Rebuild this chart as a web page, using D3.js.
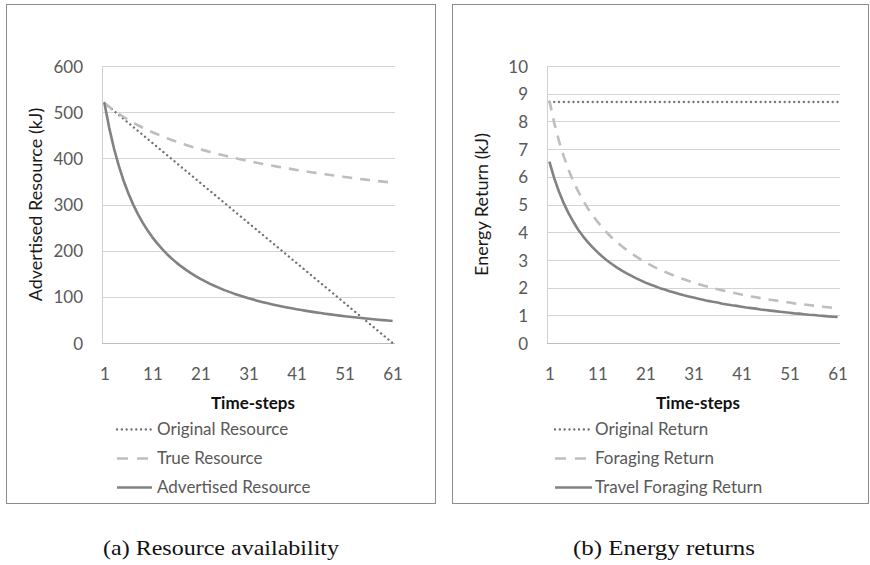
<!DOCTYPE html>
<html>
<head>
<meta charset="utf-8">
<script src="https://cdn.jsdelivr.net/npm/d3@7"></script>
<style>
  html, body { margin: 0; padding: 0; background: #fff; }
  svg { display: block; }
</style>
</head>
<body>
<svg id="fig" width="870" height="565"></svg>
<script>
// Time-step categories and the labels shown on the category axis
const timeSteps = [1,2,3,4,5,6,7,8,9,10,11,12,13,14,15,16,17,18,19,20,21,22,23,24,25,26,27,28,29,30,
  31,32,33,34,35,36,37,38,39,40,41,42,43,44,45,46,47,48,49,50,51,52,53,54,55,56,57,58,59,60,61];
const stepLabels = [1, 11, 21, 31, 41, 51, 61];

// (a) Resource availability, kJ
const resourceTicks = [0, 100, 200, 300, 400, 500, 600];
const originalResource = [520, 511.3, 502.7, 494, 485.3, 476.7, 468, 459.3, 450.7, 442,
  433.3, 424.7, 416, 407.3, 398.7, 390, 381.3, 372.7, 364, 355.3,
  346.7, 338, 329.3, 320.7, 312, 303.3, 294.7, 286, 277.3, 268.7,
  260, 251.3, 242.7, 234, 225.3, 216.7, 208, 199.3, 190.7, 182,
  173.3, 164.7, 156, 147.3, 138.7, 130, 121.3, 112.7, 104, 95.3,
  86.7, 78, 69.3, 60.7, 52, 43.3, 34.7, 26, 17.3, 8.7, 0];
const trueResource = [520, 511.5, 503.6, 496.3, 489.5, 483.1, 477.2, 471.6, 466.3, 461.3,
  456.6, 452.1, 447.8, 443.8, 439.9, 436.1, 432.6, 429.1, 425.8, 422.7,
  419.6, 416.7, 413.8, 411.1, 408.4, 405.9, 403.4, 400.9, 398.6, 396.3,
  394.1, 392.0, 389.9, 387.8, 385.9, 383.9, 382.0, 380.2, 378.4, 376.6,
  374.9, 373.3, 371.6, 370.0, 368.5, 366.9, 365.4, 364.0, 362.5, 361.1,
  359.7, 358.4, 357.0, 355.7, 354.4, 353.2, 351.9, 350.7, 349.5, 348.4, 347.2];
const advertisedResource = [520, 466.0, 421.2, 383.5, 351.4, 323.7, 299.7, 278.6, 260.1, 243.6,
  228.9, 215.7, 203.7, 192.9, 183.1, 174.1, 165.9, 158.3, 151.4, 144.9,
  138.9, 133.4, 128.2, 123.4, 118.9, 114.6, 110.7, 106.9, 103.4, 100.1,
  97.0, 94.0, 91.2, 88.5, 86.0, 83.6, 81.3, 79.1, 77.0, 75.1,
  73.2, 71.4, 69.6, 68.0, 66.4, 64.8, 63.4, 62.0, 60.6, 59.3,
  58.1, 56.9, 55.7, 54.6, 53.5, 52.4, 51.4, 50.5, 49.5, 48.6, 47.7];

// (b) Energy returns, kJ
const returnTicks = [0, 1, 2, 3, 4, 5, 6, 7, 8, 9, 10];
const originalReturn = [8.7, 8.7, 8.7, 8.7, 8.7, 8.7, 8.7, 8.7, 8.7, 8.7,
  8.7, 8.7, 8.7, 8.7, 8.7, 8.7, 8.7, 8.7, 8.7, 8.7,
  8.7, 8.7, 8.7, 8.7, 8.7, 8.7, 8.7, 8.7, 8.7, 8.7,
  8.7, 8.7, 8.7, 8.7, 8.7, 8.7, 8.7, 8.7, 8.7, 8.7,
  8.7, 8.7, 8.7, 8.7, 8.7, 8.7, 8.7, 8.7, 8.7, 8.7,
  8.7, 8.7, 8.7, 8.7, 8.7, 8.7, 8.7, 8.7, 8.7, 8.7, 8.7];
const foragingReturn = [8.75, 7.95, 7.29, 6.73, 6.25, 5.83, 5.47, 5.15, 4.86, 4.61,
  4.38, 4.17, 3.98, 3.80, 3.65, 3.50, 3.37, 3.24, 3.13, 3.02,
  2.92, 2.82, 2.73, 2.65, 2.57, 2.50, 2.43, 2.36, 2.30, 2.24,
  2.19, 2.13, 2.08, 2.03, 1.99, 1.94, 1.90, 1.86, 1.82, 1.79,
  1.75, 1.72, 1.68, 1.65, 1.62, 1.59, 1.56, 1.54, 1.51, 1.48,
  1.46, 1.43, 1.41, 1.39, 1.37, 1.35, 1.33, 1.31, 1.29, 1.27, 1.25];
const travelForagingReturn = [6.55, 5.95, 5.46, 5.04, 4.68, 4.37, 4.09, 3.85, 3.64, 3.45,
  3.28, 3.12, 2.98, 2.85, 2.73, 2.62, 2.52, 2.43, 2.34, 2.26,
  2.18, 2.11, 2.05, 1.98, 1.93, 1.87, 1.82, 1.77, 1.72, 1.68,
  1.64, 1.60, 1.56, 1.52, 1.49, 1.46, 1.42, 1.39, 1.36, 1.34,
  1.31, 1.28, 1.26, 1.24, 1.21, 1.19, 1.17, 1.15, 1.13, 1.11,
  1.09, 1.07, 1.06, 1.04, 1.02, 1.01, 0.99, 0.98, 0.96, 0.95, 0.94];

// Line styles shared by both panels
const styles = {
  dotted: { stroke: "#707070", width: 2.3, dash: "0.1 4.7", legendDash: "0.1 4.7", cap: "round" },
  dashed: { stroke: "#bebebe", width: 2.6, dash: "10 8", legendDash: "11 9", cap: "butt" },
  solid:  { stroke: "#828282", width: 2.6, dash: null, legendDash: null, cap: "butt" }
};

const SANS = "Lato, 'Open Sans', sans-serif";
const svg = d3.select("#fig");

function drawPanel(p) {
  const g = svg.append("g");

  // frame around the panel
  g.append("rect")
    .attr("x", p.frame[0] + 0.5).attr("y", p.frame[1] + 0.5)
    .attr("width", p.frame[2]).attr("height", p.frame[3])
    .attr("fill", "#fff").attr("stroke", "#8c8c8c").attr("stroke-width", 1);

  const x = d3.scalePoint().domain(timeSteps).range([p.left, p.right]).padding(0.5);
  const y = d3.scaleLinear().domain([p.yTicks[0], p.yTicks[p.yTicks.length - 1]])
    .range([p.bottom, p.top]);

  // horizontal gridlines
  g.append("g").selectAll("line").data(p.yTicks).join("line")
    .attr("x1", p.left).attr("x2", p.right)
    .attr("y1", d => Math.round(y(d)) + 0.5).attr("y2", d => Math.round(y(d)) + 0.5)
    .attr("stroke", d => d === 0 ? "#bcbcbc" : "#d4d4d4").attr("stroke-width", 1);

  // value axis line
  g.append("line")
    .attr("x1", p.left + 0.5).attr("x2", p.left + 0.5)
    .attr("y1", p.top).attr("y2", p.bottom)
    .attr("stroke", "#d0d0d0");

  // value axis labels
  const yAxis = d3.axisLeft(y).tickValues(p.yTicks).tickSize(0).tickPadding(19);
  const ya = g.append("g").attr("transform", `translate(${p.left},0)`).call(yAxis);
  ya.select(".domain").remove();
  ya.selectAll("text").attr("font-family", SANS).attr("font-size", 17)
    .attr("fill", "#595959").attr("dy", "0.36em");

  // category axis labels
  const xAxis = d3.axisBottom(x).tickValues(stepLabels).tickSize(0).tickPadding(0);
  const xa = g.append("g").attr("transform", `translate(0,${p.bottom})`).call(xAxis);
  xa.select(".domain").remove();
  xa.selectAll("text").attr("font-family", SANS).attr("font-size", 17)
    .attr("fill", "#595959").attr("y", 31).attr("dy", "0.36em");

  // axis titles
  g.append("text")
    .attr("transform", `translate(${p.yTitleX},${(p.top + p.bottom) / 2}) rotate(-90)`)
    .attr("text-anchor", "middle").attr("dy", "0.36em")
    .attr("font-family", SANS).attr("font-size", 18).attr("fill", "#1a1a1a")
    .text(p.yTitle);
  g.append("text")
    .attr("x", p.xTitleX).attr("y", 403).attr("dy", "0.36em")
    .attr("text-anchor", "middle")
    .attr("font-family", SANS).attr("font-size", 17).attr("font-weight", "bold").attr("fill", "#111")
    .text("Time-steps");

  // data series
  const line = d3.line().x((d, i) => x(timeSteps[i])).y(d => y(d));
  p.series.forEach(s => {
    const st = styles[s.style];
    g.append("path").datum(s.values)
      .attr("d", line).attr("fill", "none")
      .attr("stroke", st.stroke).attr("stroke-width", st.width)
      .attr("stroke-linecap", st.cap).attr("stroke-linejoin", "round")
      .attr("stroke-dasharray", st.dash);
  });

  // legend
  const rowsY = [429, 458, 487];
  p.series.forEach((s, i) => {
    const st = styles[s.style];
    const ly = rowsY[i];
    g.append("line")
      .attr("x1", p.legendX[0]).attr("x2", p.legendX[1])
      .attr("y1", ly + 0.5).attr("y2", ly + 0.5)
      .attr("stroke", st.stroke).attr("stroke-width", st.width)
      .attr("stroke-linecap", st.cap).attr("stroke-dasharray", st.legendDash);
    g.append("text")
      .attr("x", p.legendX[2]).attr("y", ly).attr("dy", "0.36em")
      .attr("font-family", SANS).attr("font-size", 17).attr("fill", "#595959")
      .text(s.name);
  });

  // caption below the panel
  svg.append("text")
    .attr("x", p.captionX).attr("y", 555)
    .attr("text-anchor", "middle")
    .attr("font-family", "'Liberation Serif', 'Times New Roman', serif")
    .attr("font-size", 21).attr("fill", "#111")
    .attr("textLength", p.captionWidth).attr("lengthAdjust", "spacingAndGlyphs")
    .text(p.caption);
}

drawPanel({
  frame: [6, 4, 429, 499],
  left: 102, right: 395, top: 66, bottom: 343,
  yTicks: resourceTicks,
  yTitle: "Advertised Resource (kJ)", yTitleX: 36,
  xTitleX: 253,
  legendX: [117, 152, 157],
  caption: "(a) Resource availability", captionX: 221, captionWidth: 236,
  series: [
    { name: "Original Resource", values: originalResource, style: "dotted" },
    { name: "True Resource", values: trueResource, style: "dashed" },
    { name: "Advertised Resource", values: advertisedResource, style: "solid" }
  ]
});

drawPanel({
  frame: [452, 4, 416, 499],
  left: 547, right: 840, top: 66, bottom: 343,
  yTicks: returnTicks,
  yTitle: "Energy Return (kJ)", yTitleX: 482,
  xTitleX: 698,
  legendX: [555, 592, 595],
  caption: "(b) Energy returns", captionX: 664, captionWidth: 182,
  series: [
    { name: "Original Return", values: originalReturn, style: "dotted" },
    { name: "Foraging Return", values: foragingReturn, style: "dashed" },
    { name: "Travel Foraging Return", values: travelForagingReturn, style: "solid" }
  ]
});
</script>
</body>
</html>
